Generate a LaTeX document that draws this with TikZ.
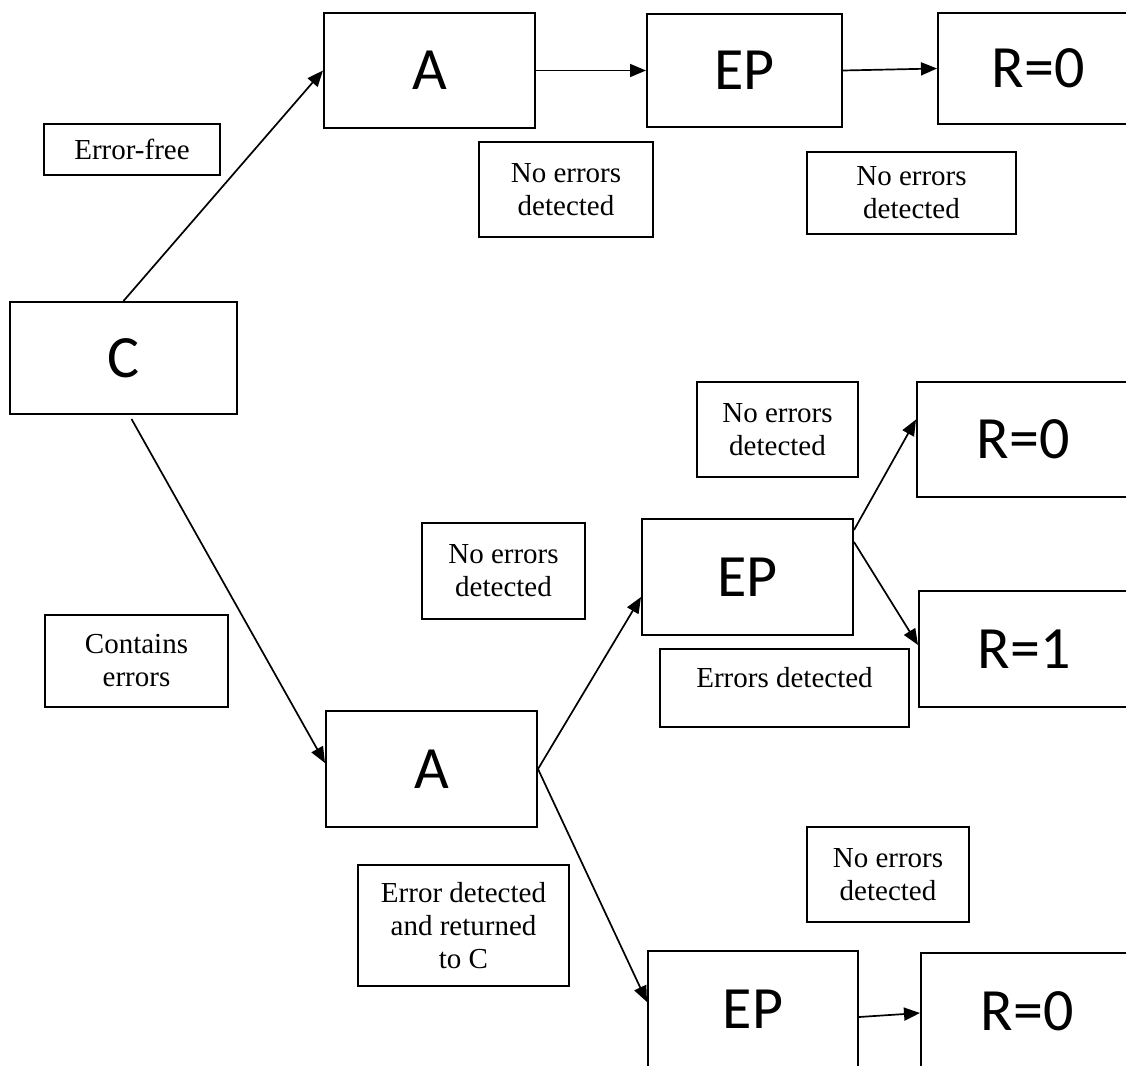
\documentclass[tikz,border=0pt]{standalone}
\usepackage{fontspec}
\setmainfont{Liberation Serif}
\newfontfamily\stagefont{Carlito}
\usepackage{tikz}
\usetikzlibrary{arrows.meta}
\tikzset{basic/.style={draw,inner sep=0pt,text badly centered}}
\tikzset{stage/.style={basic,line width=2pt,font=\stagefont\fontsize{60}{72}\selectfont}}
\tikzset{note/.style={basic,line width=1.4pt,align=center,font=\fontsize{29}{33}\selectfont}}

\begin{document}
\begin{tikzpicture}[x=1pt,y=-1pt,>={Triangle[length=16pt,width=13pt]}]
    \tikzstyle{arrow}=[->,line width=1.7pt]
    \clip (0,0) rectangle (1126,1065);
    \fill[white] (0,0) rectangle (1126,1065);

    % stages
    \foreach \name/\txt/\px/\py/\w/\h in {C/C/123.5/358/227/112,
        A1/A/429.5/70.5/211/115, EP1/EP/744.5/70.5/195/113, R01/R=0/1038/68.5/200/111,
        A2/A/431.5/769/211/116, EP2/EP/747.5/577/211/116, EP3/EP/753/1009/210/116,
        R02/R=0/1023/439.5/212/115, R12/R=1/1024/649/210/116, R03/R=0/1027/1011/212/116}{%
          \node[stage,minimum width=\w pt,minimum height=\h pt] (\name) at (\px,\py) {\txt};
        }

    % notes
    \foreach \txt/\px/\py/\w/\h [count=\i] in {{Error-free}/132/149.5/176/51,
        {No errors\\detected}/566/189.5/174/95, {No errors\\detected}/911.5/193/209/82,
        {No errors\\detected}/777.5/429.5/161/95, {No errors\\detected}/503.5/571/163/96,
        {Contains\\errors}/136.5/661/183/92, {Error detected\\and returned\\to C}/463.5/925.5/211/121,
        {No errors\\detected}/888/874.5/162/95}{%
          \node[note,minimum width=\w pt,minimum height=\h pt] (note\i) at (\px,\py) {\txt};
        }
    \node[note,minimum width=249pt,minimum height=78pt,text depth=22pt] (errnote) at (784.5,688) {Errors detected};

    % connectors
    \draw[arrow] (C.north) -- (A1.west);
    \draw[arrow] (A1.east) -- (EP1.west);
    \draw[arrow] (EP1.east) -- (R01.west);
    \draw[arrow] ([xshift=8pt,yshift=-4pt]C.south) -- ([yshift=6pt]A2.west);
    \draw[arrow] (A2.east) -- ([yshift=-20pt]EP2.west);
    \draw[arrow] (A2.east) -- ([yshift=7pt]EP3.west);
    \draw[arrow] ([yshift=47pt]EP2.east) -- ([yshift=20pt]R02.west);
    \draw[arrow] ([yshift=35pt]EP2.east) -- ([yshift=4pt]R12.west);
    \draw[arrow] ([yshift=-8pt]EP3.east) -- ([yshift=-2pt]R03.west);
\end{tikzpicture}
\end{document}
